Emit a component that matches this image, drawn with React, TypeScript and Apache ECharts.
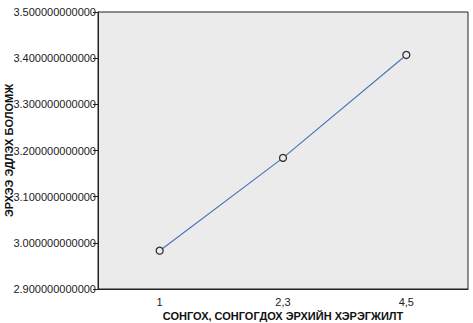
import React, { useEffect, useRef } from "react";
import * as echarts from "echarts";

const categories = ["1", "2,3", "4,5"];
const values = [2.983, 3.184, 3.407];
const yTicks = [2.9, 3.0, 3.1, 3.2, 3.3, 3.4, 3.5];
const xName = "СОНГОХ, СОНГОГДОХ ЭРХИЙН ХЭРЭГЖИЛТ";
const yName = "ЭРХЭЭ ЭДЛЭХ БОЛОМЖ";

export default function App() {
  const ref = useRef<HTMLDivElement>(null);
  useEffect(() => {
    document.body.style.margin = "0";
    const chart = echarts.init(ref.current!, null, { renderer: "svg" });
    const font = "Liberation Sans, Arial, sans-serif";
    chart.setOption({
      animation: false,
      backgroundColor: "#ffffff",
      grid: {
        left: 98,
        top: 12,
        right: 5,
        bottom: 34,
        containLabel: false,
        outerBoundsMode: "none",
        show: true,
        backgroundColor: "#EBEBEB",
        borderColor: "#222",
        borderWidth: 1,
      },
      xAxis: {
        type: "category",
        data: categories,
        boundaryGap: true,
        name: xName,
        nameLocation: "middle",
        nameMoveOverlap: false,
        nameGap: 21,
        nameTextStyle: { fontFamily: font, fontWeight: "bold", fontSize: 11, color: "#111" },
        axisLine: { lineStyle: { color: "#222", width: 1 } },
        axisTick: { alignWithLabel: true, length: 5, lineStyle: { color: "#222" } },
        axisLabel: { fontFamily: font, fontSize: 11, color: "#222", margin: 7 },
        splitLine: { show: false },
      },
      yAxis: {
        type: "value",
        min: yTicks[0],
        max: yTicks[yTicks.length - 1],
        interval: 0.1,
        name: yName,
        nameLocation: "middle",
        nameMoveOverlap: false,
        nameGap: 84,
        nameTextStyle: { fontFamily: font, fontWeight: "bold", fontSize: 11, color: "#111" },
        axisLine: { show: true, lineStyle: { color: "#222", width: 1 } },
        axisTick: { show: true, length: 5, lineStyle: { color: "#222" } },
        axisLabel: {
          fontFamily: font,
          fontSize: 11,
          color: "#222",
          margin: 2,
          formatter: (v: number) => v.toFixed(12),
        },
        splitLine: { show: false },
      },
      series: [
        {
          type: "line",
          data: values,
          symbol: "circle",
          symbolSize: 7,
          showSymbol: true,
          lineStyle: { color: "#4A74BC", width: 1.2 },
          itemStyle: { color: "#EBEBEB", borderColor: "#333", borderWidth: 1.3 },
        },
      ],
    });
    return () => chart.dispose();
  }, []);
  return <div ref={ref} style={{ width: 473, height: 323 }} />;
}
